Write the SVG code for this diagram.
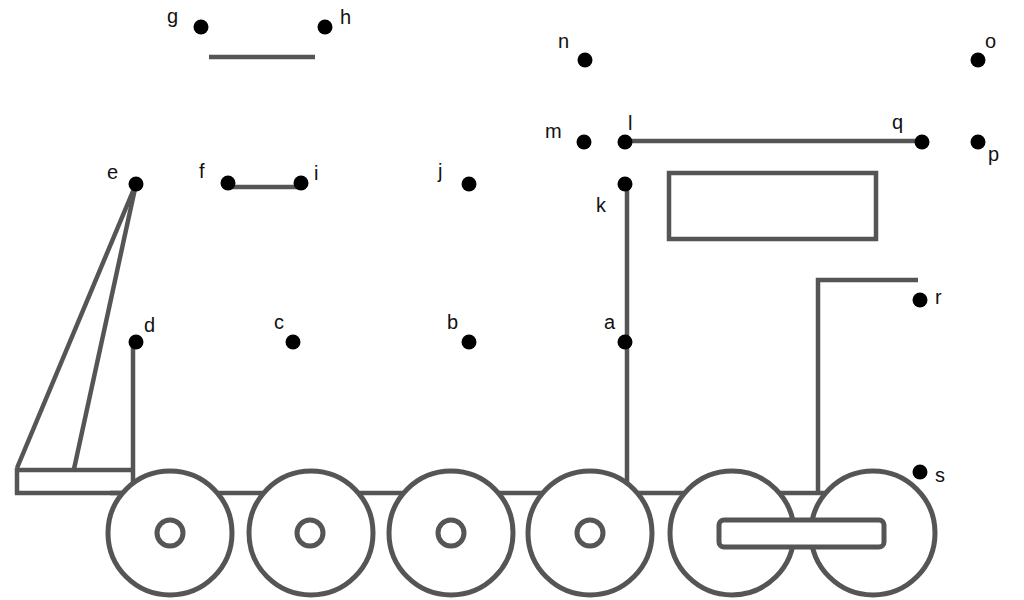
<svg xmlns="http://www.w3.org/2000/svg" width="1024" height="600" viewBox="0 0 1024 600">
<style>
.ln{stroke:#555;stroke-width:4.5;fill:none;stroke-linecap:butt}
.wh{stroke:#555;stroke-width:5;fill:#fff}
.dot{fill:#000}
.lb{font-family:"Liberation Sans",Arial,sans-serif;font-size:20px;fill:#111}
</style>
<rect width="1024" height="600" fill="#fff"/>
<g id="connectors">
<line class="ln" x1="209" y1="57" x2="315" y2="57"/>
<line class="ln" x1="228" y1="187" x2="301" y2="187"/>
<line class="ln" x1="625" y1="141" x2="922" y2="141"/>
<rect class="ln" x="669" y="173" width="207" height="66"/>
<line class="ln" x1="627" y1="184" x2="627" y2="490"/>
<polyline class="ln" points="818,493 818,280 918,280"/>
<line class="ln" x1="133" y1="342" x2="133" y2="490"/>
<line class="ln" x1="136" y1="184" x2="17" y2="468"/>
<line class="ln" x1="136" y1="184" x2="74" y2="469"/>
<polyline class="ln" points="133,470 17,470 17,493 130,493"/>
<line class="ln" x1="110" y1="493" x2="900" y2="493"/>
</g>
<g id="wheels">
<circle class="wh" cx="170" cy="533" r="62"/>
<circle class="wh" cx="170" cy="533" r="13"/>
<circle class="wh" cx="311" cy="533" r="62"/>
<circle class="wh" cx="310" cy="533" r="13"/>
<circle class="wh" cx="451" cy="533" r="62"/>
<circle class="wh" cx="451" cy="533" r="13"/>
<circle class="wh" cx="590" cy="533" r="62"/>
<circle class="wh" cx="590" cy="533" r="13"/>
<circle class="wh" cx="732" cy="533" r="62"/>
<circle class="wh" cx="873" cy="533" r="62"/>
<rect class="wh" x="719" y="520" width="165" height="27" rx="5" stroke-width="4.5"/>
</g>
<g id="node-a"><circle class="dot" cx="625" cy="342" r="7.5"/><text class="lb" x="604" y="329">a</text></g>
<g id="node-b"><circle class="dot" cx="469" cy="342" r="7.5"/><text class="lb" x="447" y="329">b</text></g>
<g id="node-c"><circle class="dot" cx="293" cy="342" r="7.5"/><text class="lb" x="274" y="329">c</text></g>
<g id="node-d"><circle class="dot" cx="136" cy="342" r="7.5"/><text class="lb" x="144" y="332">d</text></g>
<g id="node-e"><circle class="dot" cx="136" cy="184" r="7.5"/><text class="lb" x="107" y="179">e</text></g>
<g id="node-f"><circle class="dot" cx="228" cy="183" r="7.5"/><text class="lb" x="199" y="178">f</text></g>
<g id="node-g"><circle class="dot" cx="201" cy="27" r="7.5"/><text class="lb" x="167" y="23">g</text></g>
<g id="node-h"><circle class="dot" cx="325" cy="27" r="7.5"/><text class="lb" x="340" y="24">h</text></g>
<g id="node-i"><circle class="dot" cx="301" cy="183" r="7.5"/><text class="lb" x="314" y="180">i</text></g>
<g id="node-j"><circle class="dot" cx="469" cy="184" r="7.5"/><text class="lb" x="438" y="178">j</text></g>
<g id="node-k"><circle class="dot" cx="625" cy="184" r="7.5"/><text class="lb" x="596" y="212">k</text></g>
<g id="node-l"><circle class="dot" cx="625" cy="142" r="7.5"/><text class="lb" x="628" y="130">l</text></g>
<g id="node-m"><circle class="dot" cx="584" cy="142" r="7.5"/><text class="lb" x="545" y="138">m</text></g>
<g id="node-n"><circle class="dot" cx="585" cy="60" r="7.5"/><text class="lb" x="558" y="48">n</text></g>
<g id="node-o"><circle class="dot" cx="978" cy="60" r="7.5"/><text class="lb" x="985" y="48">o</text></g>
<g id="node-p"><circle class="dot" cx="978" cy="142" r="7.5"/><text class="lb" x="988" y="161">p</text></g>
<g id="node-q"><circle class="dot" cx="922" cy="142" r="7.5"/><text class="lb" x="892" y="129">q</text></g>
<g id="node-r"><circle class="dot" cx="920" cy="300" r="7.5"/><text class="lb" x="935" y="304">r</text></g>
<g id="node-s"><circle class="dot" cx="920" cy="472" r="7.5"/><text class="lb" x="935" y="482">s</text></g>
</svg>
